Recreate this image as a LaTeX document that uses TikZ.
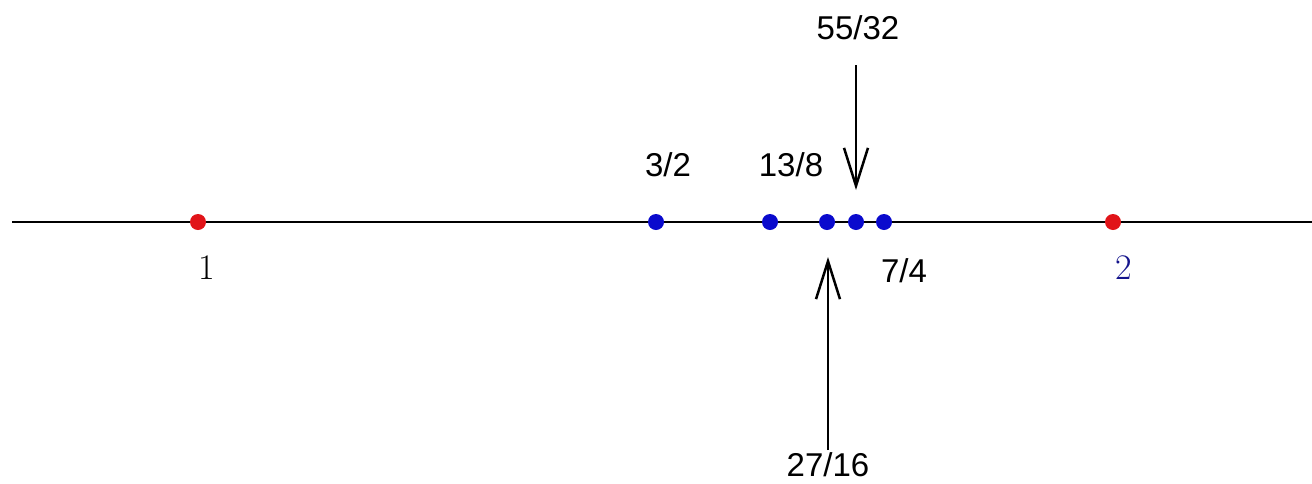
\documentclass[tikz,border=0pt]{standalone}
\usepackage{fontspec}
\setsansfont{Liberation Sans}
\usetikzlibrary{arrows.meta}
\definecolor{dotred}{RGB}{225,20,25}
\definecolor{dotblue}{RGB}{10,10,205}
\definecolor{labblue}{RGB}{20,20,140}
\tikzset{
  axis/.style={line width=2.5pt,black},
  dotr/.style={circle,fill=dotred,inner sep=0pt,minimum size=16pt},
  dotb/.style={circle,fill=dotblue,inner sep=0pt,minimum size=16pt},
  frac/.style={font=\sffamily\fontsize{33}{33}\selectfont,inner sep=0pt},
  intlab/.style={font=\fontsize{36}{36}\selectfont,inner sep=0pt},
  pointer/.style={line width=2.5pt,-{Straight Barb[length=38pt,width=24pt,line width=2.5pt]}}
}
\begin{document}
\begin{tikzpicture}[x=1pt,y=-1pt]
\useasboundingbox (0,0) rectangle (1312,483);
\coordinate (L) at (12,222);
\coordinate (R) at (1312,222);
\draw[axis] (L) -- (R);
\node[dotr] (p1) at (198,222) {};
\node[dotb] (p32) at (656,222) {};
\node[dotb] (p138) at (770,222) {};
\node[dotb] (p2716) at (827,222) {};
\node[dotb] (p5532) at (856,222) {};
\node[dotb] (p74) at (884,222) {};
\node[dotr] (p2) at (1113,222) {};
\node[intlab] (l1) at (207,268) {1};
\node[intlab,text=labblue] (l2) at (1124,268) {2};
\node[frac] (l32) at (668,165) {3/2};
\node[frac] (l138) at (791,165) {13/8};
\node[frac] (l5532) at (858,28) {55/32};
\node[frac] (l74) at (904,271) {7/4};
\node[frac] (l2716) at (828,465) {27/16};
\coordinate (a1s) at (856,65);
\coordinate (a1e) at (856,190);
\coordinate (a2s) at (828,450);
\coordinate (a2e) at (828,257);
\draw[pointer] (a1s) -- (a1e);
\draw[pointer] (a2s) -- (a2e);
\end{tikzpicture}
\end{document}
